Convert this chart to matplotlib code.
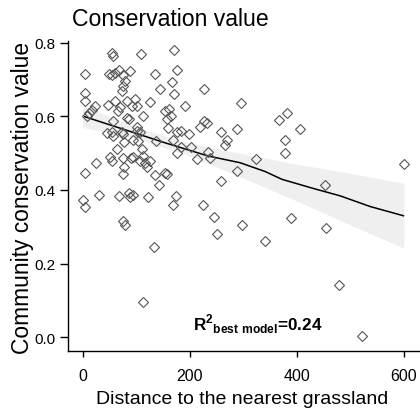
import matplotlib
matplotlib.use('Agg')
import numpy as np
from matplotlib import pyplot as plt

# distance to nearest grassland vs community conservation value
dist = [54, 57, 109, 171, 4, 50, 54, 60, 68, 76, 88, 135, 176, 79, 75, 73,
        166, 145, 171, 227, 4, 4, 23, 17, 8, 11, 48, 60, 70, 67, 82, 92,
        98, 101, 126, 113, 82, 87, 57, 101, 154, 157, 161, 165, 191, 295,
        227, 232, 219, 288, 160, 176, 184, 199, 259, 169, 184, 176, 202,
        269, 265, 235, 237, 213, 323, 289, 259, 157, 174, 169, 224, 45, 54,
        57, 73, 76, 101, 103, 107, 95, 137, 77, 64, 25, 52, 54, 75, 90, 94,
        110, 112, 107, 116, 126, 120, 78, 76, 4, 135, 153, 143, 31, 68, 87,
        88, 95, 122, 1, 4, 76, 79, 133, 112, 245, 251, 298, 341, 366, 382,
        406, 378, 378, 601, 453, 389, 455, 479, 522]
value = [0.772, 0.765, 0.770, 0.779, 0.715, 0.714, 0.711, 0.718, 0.725, 0.711,
         0.722, 0.714, 0.727, 0.695, 0.682, 0.668, 0.693, 0.673, 0.661, 0.673,
         0.664, 0.641, 0.628, 0.616, 0.601, 0.610, 0.630, 0.641, 0.625, 0.614,
         0.641, 0.628, 0.646, 0.628, 0.640, 0.602, 0.596, 0.592, 0.587, 0.572,
         0.614, 0.592, 0.621, 0.601, 0.628, 0.637, 0.587, 0.581, 0.572, 0.566,
         0.569, 0.558, 0.560, 0.553, 0.558, 0.537, 0.517, 0.501, 0.517, 0.535,
         0.522, 0.504, 0.488, 0.483, 0.483, 0.451, 0.423, 0.443, 0.384, 0.359,
         0.359, 0.556, 0.558, 0.546, 0.558, 0.551, 0.560, 0.533, 0.558, 0.537,
         0.533, 0.531, 0.510, 0.474, 0.489, 0.480, 0.488, 0.486, 0.489, 0.510,
         0.492, 0.480, 0.474, 0.480, 0.462, 0.461, 0.444, 0.447, 0.441, 0.447,
         0.413, 0.386, 0.384, 0.393, 0.382, 0.386, 0.381, 0.372, 0.354, 0.315,
         0.304, 0.245, 0.095, 0.327, 0.280, 0.305, 0.262, 0.590, 0.610, 0.566,
         0.537, 0.501, 0.470, 0.413, 0.325, 0.296, 0.143, 0.004]

# fitted line of the best model
fit_x = [4, 154, 235, 294, 341, 372, 431, 481, 537, 599]
fit_y = [0.599, 0.528, 0.492, 0.474, 0.450, 0.429, 0.404, 0.384, 0.355, 0.330]

# confidence band
band_x = [0, 100, 200, 300, 400, 500, 600]
band_lo = [0.57, 0.54, 0.493, 0.432, 0.37, 0.305, 0.242]
band_hi = [0.63, 0.57, 0.527, 0.498, 0.47, 0.445, 0.418]

plt.rcParams['font.family'] = ['Liberation Sans', 'DejaVu Sans']
plt.rcParams['mathtext.fontset'] = 'custom'
plt.rcParams['mathtext.bf'] = 'Liberation Sans:bold'

fig = plt.figure(figsize=(4.2, 4.14), dpi=100)
ax = fig.add_axes([0.161, 0.15, 0.839, 0.749])

ax.fill_between(band_x, band_lo, band_hi, color='#efefef', lw=0, zorder=1)
ax.plot(fit_x, fit_y, color='black', lw=1.1, zorder=2)
ax.plot(dist, value, 'D', ms=5.1, mfc='none', mec='#555555', mew=0.8, zorder=3)

ax.set_xlim(-28, 630)
ax.set_ylim(-0.037, 0.805)
ax.set_xticks([0, 200, 400, 600])
ax.set_yticks([0.0, 0.2, 0.4, 0.6, 0.8])
ax.set_yticklabels(['0.0', '0.2', '0.4', '0.6', '0.8'])
for s in ['top', 'right']:
    ax.spines[s].set_visible(False)
for s in ['left', 'bottom']:
    ax.spines[s].set_linewidth(1.0)
ax.tick_params(axis='y', length=5.5, width=1, pad=3.5, labelsize=11)
ax.tick_params(axis='x', length=4.5, width=1, pad=8, labelsize=11.5)

ax.text(206, 0.022, r'R$^\mathbf{2}$$_\mathbf{best\ model}$=0.24',
        weight='bold', fontsize=12.3, ha='left', va='baseline')

fig.text(72/420, 1-20/414, 'Conservation value',
         fontsize=16.6, ha='left', va='center')
fig.text(23/420, 1-197.5/414, 'Community conservation value', rotation=90,
         fontsize=16.4, ha='center', va='center')
fig.text(242.5/420, 1-400/414, 'Distance to the nearest grassland',
         fontsize=14, ha='center', va='center')

fig.savefig('out.png', dpi=100)
